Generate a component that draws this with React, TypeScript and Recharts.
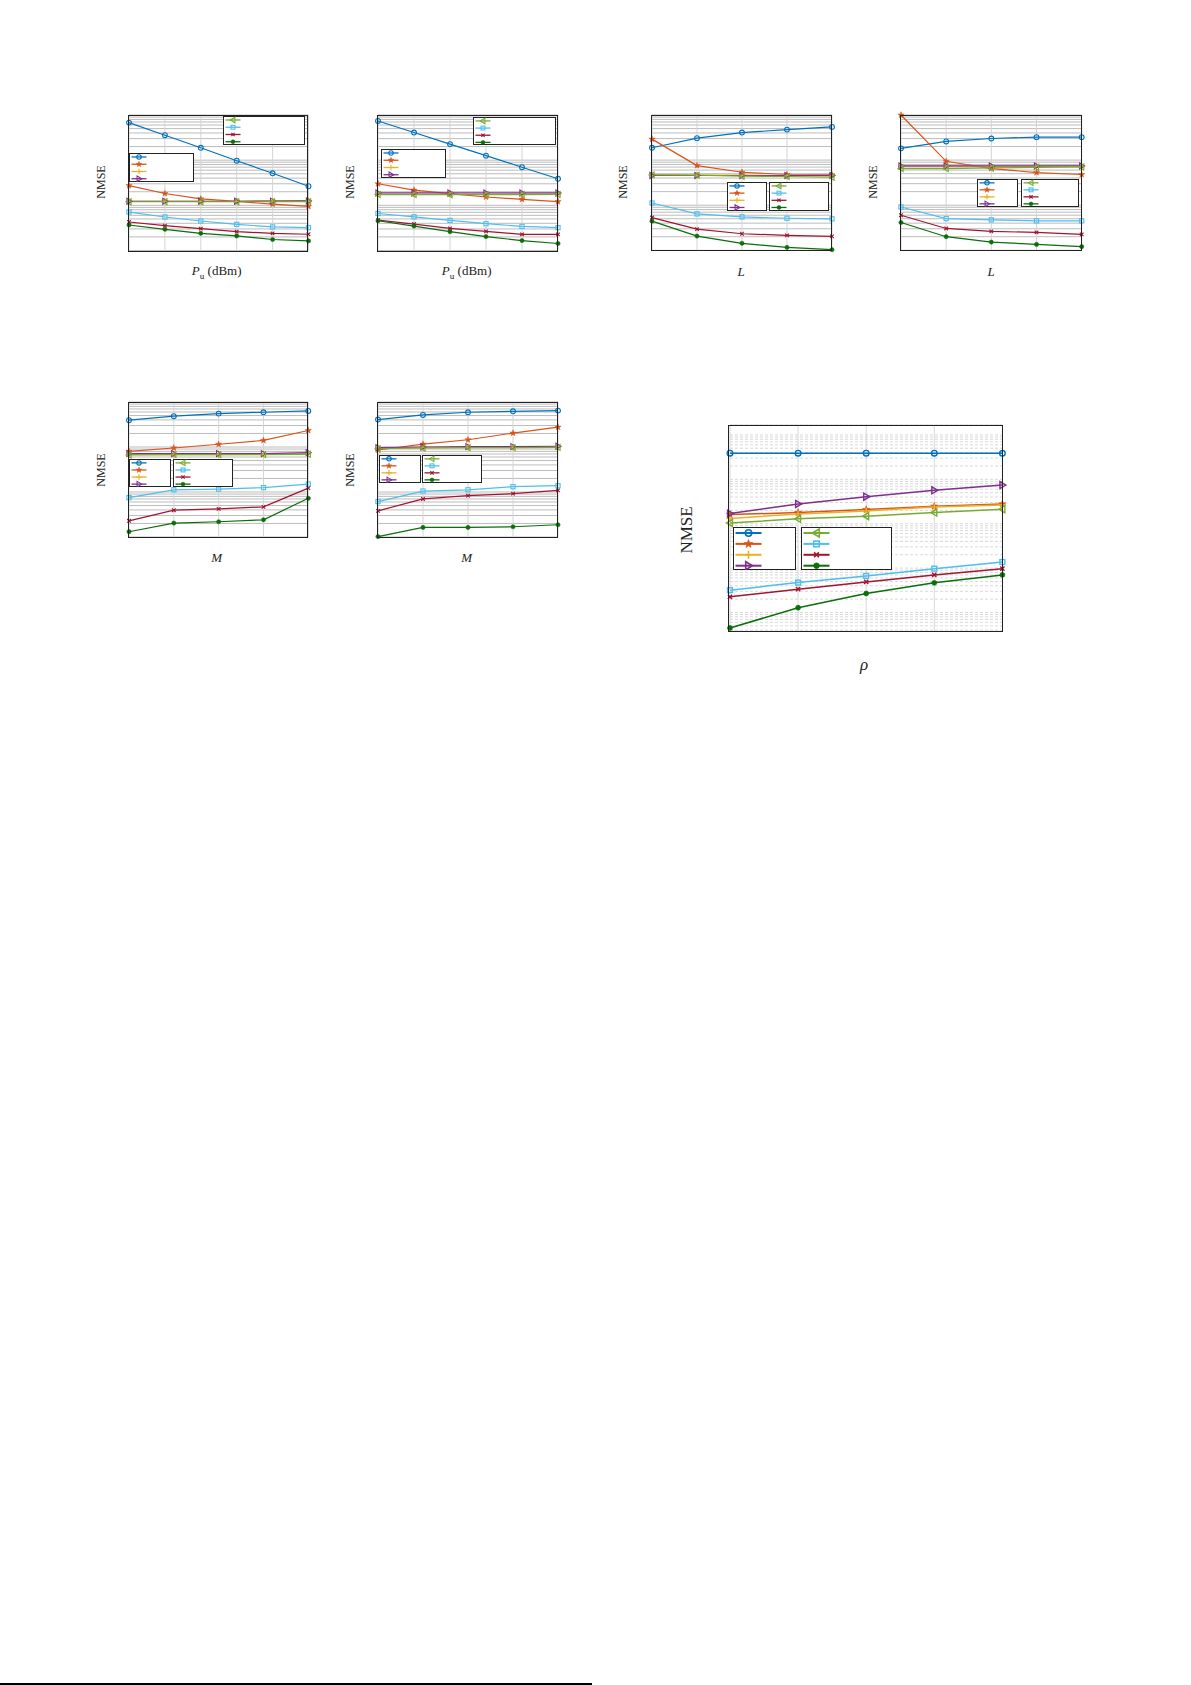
import React from 'react'
import { LineChart, Line, XAxis, YAxis, CartesianGrid } from 'recharts'

// series styling, same order in every panel
const COLORS = ['#0072BD', '#D95319', '#EDB120', '#7E2F8E', '#77AC30', '#4DBEEE', '#A2142F', '#0A6E0A']
const SHAPES = ['circle', 'star', 'plus', 'triRight', 'triLeft', 'square', 'cross', 'dot']

// x values (tick labels are not shown in the figure)
const puDbm = [0, 5, 10, 15, 20, 25]
const pathsL = [1, 2, 3, 4, 5]
const antennasM = [32, 64, 96, 128, 160]
const rhoValues = [0.1, 0.2, 0.3, 0.4, 0.5]

// NMSE, one row per series
const nmsePuA = [
  [0.678, 0.357, 0.188, 0.0973, 0.0512, 0.0265],
  [0.0274, 0.0183, 0.0139, 0.0122, 0.0106, 0.00945],
  [0.0122, 0.0122, 0.0122, 0.0122, 0.0126, 0.0128],
  [0.0123, 0.0123, 0.0123, 0.0123, 0.0124, 0.0125],
  [0.012, 0.012, 0.012, 0.012, 0.012, 0.0121],
  [0.0071, 0.00551, 0.0045, 0.0038, 0.00332, 0.00321],
  [0.00428, 0.00355, 0.00305, 0.00262, 0.0024, 0.00229],
  [0.00367, 0.00295, 0.0024, 0.0021, 0.00175, 0.00163],
]
const nmsePuB = [
  [0.738, 0.409, 0.227, 0.126, 0.0698, 0.0387],
  [0.0301, 0.0218, 0.0181, 0.0153, 0.0136, 0.0121],
  [0.0175, 0.0175, 0.0176, 0.0176, 0.0177, 0.0177],
  [0.0188, 0.0188, 0.0188, 0.0188, 0.0188, 0.0188],
  [0.0173, 0.0173, 0.0172, 0.0172, 0.0173, 0.0174],
  [0.0066, 0.00557, 0.00463, 0.00392, 0.00342, 0.0032],
  [0.00471, 0.00385, 0.00309, 0.00265, 0.00228, 0.00228],
  [0.00456, 0.00348, 0.00261, 0.00203, 0.00166, 0.00143],
]
const nmseLA = [
  [0.188, 0.307, 0.408, 0.475, 0.544],
  [0.292, 0.0755, 0.0538, 0.0479, 0.047],
  [0.0468, 0.0466, 0.0462, 0.0458, 0.0452],
  [0.0455, 0.0455, 0.0455, 0.0455, 0.0455],
  [0.047, 0.0462, 0.044, 0.0433, 0.0418],
  [0.0112, 0.00641, 0.00551, 0.00514, 0.00498],
  [0.00532, 0.00294, 0.00233, 0.00214, 0.00203],
  [0.00442, 0.00207, 0.00143, 0.00116, 0.00103],
]
const nmseLB = [
  [0.182, 0.259, 0.301, 0.323, 0.323],
  [1.0, 0.094, 0.0649, 0.053, 0.0479],
  [0.0734, 0.0734, 0.0734, 0.0738, 0.074],
  [0.0742, 0.0742, 0.0742, 0.0742, 0.0742],
  [0.0649, 0.0649, 0.067, 0.0693, 0.0705],
  [0.00914, 0.00506, 0.00473, 0.0045, 0.0045],
  [0.006, 0.00305, 0.00262, 0.00249, 0.00225],
  [0.00413, 0.002, 0.00152, 0.00135, 0.0012],
]
const nmseMA = [
  [0.394, 0.483, 0.553, 0.592, 0.633],
  [0.0802, 0.0951, 0.115, 0.14, 0.233],
  [0.0677, 0.0677, 0.0677, 0.0688, 0.07],
  [0.0713, 0.0713, 0.0713, 0.0713, 0.075],
  [0.0667, 0.0677, 0.0677, 0.0677, 0.0688],
  [0.0075, 0.0112, 0.0116, 0.0125, 0.015],
  [0.00229, 0.00394, 0.00422, 0.00467, 0.0122],
  [0.00131, 0.00204, 0.00218, 0.00241, 0.00724],
]
const nmseMB = [
  [0.407, 0.516, 0.592, 0.622, 0.644],
  [0.0859, 0.116, 0.145, 0.204, 0.276],
  [0.094, 0.0955, 0.097, 0.097, 0.0985],
  [0.0966, 0.1, 0.102, 0.102, 0.104],
  [0.0918, 0.095, 0.097, 0.097, 0.098],
  [0.00612, 0.0105, 0.0112, 0.0131, 0.0138],
  [0.00381, 0.00701, 0.0083, 0.00919, 0.0109],
  [0.00102, 0.00163, 0.00163, 0.00169, 0.00187],
]
const nmseRho = [
  [0.388, 0.388, 0.388, 0.388, 0.385],
  [0.0161, 0.0178, 0.0208, 0.0247, 0.0279],
  [0.0131, 0.0166, 0.0194, 0.0239, 0.0265],
  [0.0169, 0.0279, 0.0407, 0.0565, 0.0744],
  [0.0104, 0.0129, 0.0148, 0.0178, 0.0212],
  [3.18e-4, 4.72e-4, 6.67e-4, 9.73e-4, 1.37e-3],
  [2.25e-4, 3.35e-4, 4.89e-4, 7.02e-4, 9.73e-4],
  [4.47e-5, 1.28e-4, 2.68e-4, 4.65e-4, 7.02e-4],
]

const FONT = '"Liberation Serif", "DejaVu Serif", serif'

function logTicks(lo: number, hi: number, minor = true) {
  const out: number[] = []
  for (let e = Math.floor(Math.log10(lo)) - 1; e <= Math.ceil(Math.log10(hi)); e++) {
    for (let k = 1; k <= (minor ? 9 : 1); k++) {
      const v = Number((k * Math.pow(10, e)).toPrecision(6))
      if (v >= lo * 0.999 && v <= hi * 1.001) out.push(v)
    }
  }
  return out
}

function Marker({ shape, cx, cy, color, size, sw }: any) {
  if (cx == null || cy == null) return <g />
  const r = size / 2
  switch (shape) {
    case 'circle':
      return <circle cx={cx} cy={cy} r={r * 0.8} fill="none" stroke={color} strokeWidth={sw} />
    case 'star': {
      const pts: string[] = []
      for (let i = 0; i < 10; i++) {
        const a = -Math.PI / 2 + (i * Math.PI) / 5
        const rr = i % 2 === 0 ? r * 1.1 : r * 0.45
        pts.push(`${cx + rr * Math.cos(a)},${cy + rr * Math.sin(a)}`)
      }
      return <polygon points={pts.join(' ')} fill={color} stroke={color} strokeWidth={sw * 0.4} />
    }
    case 'plus':
      return (
        <g stroke={color} strokeWidth={sw}>
          <line x1={cx - r} y1={cy} x2={cx + r} y2={cy} />
          <line x1={cx} y1={cy - r} x2={cx} y2={cy + r} />
        </g>
      )
    case 'triRight':
      return <polygon points={`${cx + r},${cy} ${cx - r * 0.7},${cy - r} ${cx - r * 0.7},${cy + r}`} fill="none" stroke={color} strokeWidth={sw} />
    case 'triLeft':
      return <polygon points={`${cx - r},${cy} ${cx + r * 0.7},${cy - r} ${cx + r * 0.7},${cy + r}`} fill="none" stroke={color} strokeWidth={sw} />
    case 'square':
      return <rect x={cx - r * 0.7} y={cy - r * 0.7} width={r * 1.4} height={r * 1.4} fill="none" stroke={color} strokeWidth={sw} />
    case 'cross':
      return (
        <g stroke={color} strokeWidth={sw}>
          <line x1={cx - r * 0.6} y1={cy - r * 0.6} x2={cx + r * 0.6} y2={cy + r * 0.6} />
          <line x1={cx - r * 0.6} y1={cy + r * 0.6} x2={cx + r * 0.6} y2={cy - r * 0.6} />
        </g>
      )
    default:
      return <circle cx={cx} cy={cy} r={r * 0.7} fill={color} stroke={color} strokeWidth={sw * 0.5} />
  }
}

function LegendBox({ box, items, big }: any) {
  const [l, t, w, h] = box
  const gap = h / 4
  const len = big ? 26 : 15
  return (
    <div style={{ position: 'absolute', left: l, top: t, width: w, height: h, background: '#fff', border: '1px solid #222', boxSizing: 'border-box' }}>
      <svg width={w} height={h} style={{ position: 'absolute', left: -1, top: -1 }}>
        {items.map((j: number, i: number) => {
          const y = gap * (i + 0.55)
          return (
            <g key={j}>
              <line x1={2.5} y1={y} x2={2.5 + len} y2={y} stroke={COLORS[j]} strokeWidth={big ? 2 : 1.3} />
              <Marker shape={SHAPES[j]} cx={2.5 + len / 2} cy={y} color={COLORS[j]} size={big ? 8 : 5.5} sw={big ? 1.6 : 1.1} />
            </g>
          )
        })}
      </svg>
    </div>
  )
}

const noTick = () => <g />

function Panel({ p }: any) {
  const pad = 10
  const data = p.x.map((xv: number, i: number) => {
    const row: any = { x: xv }
    p.values.forEach((s: number[], j: number) => { row[`s${j}`] = s[i] })
    return row
  })
  const size = p.big ? 7 : 6
  const sw = p.big ? 1.4 : 1.1
  return (
    <>
      <div style={{ position: 'absolute', left: p.box[0] - pad, top: p.box[1] - pad }}>
        <LineChart width={p.box[2] + 2 * pad} height={p.box[3] + 2 * pad} data={data}
          margin={{ top: pad, right: pad, bottom: pad, left: pad }}>
          {p.big ? (
            <>
              <CartesianGrid stroke="#cfcfcf" strokeDasharray="3 2" strokeWidth={0.8} vertical={false} />
              <CartesianGrid yAxisId="major" stroke="#d8d8d8" strokeWidth={1} />
            </>
          ) : (
            <>
              <CartesianGrid stroke="#b4b4b4" strokeWidth={0.9} vertical={false} />
              <CartesianGrid stroke="#d4d4d4" strokeWidth={1} horizontal={false} />
            </>
          )}
          <XAxis dataKey="x" type="number" domain={[p.x[0], p.x[p.x.length - 1]]} ticks={p.x}
            tick={noTick} tickLine={false} axisLine={false} height={1} interval={0} />
          <YAxis type="number" scale="log" domain={p.domain} ticks={logTicks(p.domain[0], p.domain[1])}
            tick={noTick} tickLine={false} axisLine={false} width={1} interval={0} />
          {p.big && (
            <YAxis yAxisId="major" type="number" scale="log" domain={p.domain}
              ticks={logTicks(p.domain[0], p.domain[1], false)}
              tick={noTick} tickLine={false} axisLine={false} width={1} interval={0} />
          )}
          {p.values.map((_: number[], j: number) => (
            <Line key={j} dataKey={`s${j}`} stroke={COLORS[j]} strokeWidth={p.big ? 1.5 : 1.2}
              isAnimationActive={false}
              dot={(d: any) => <Marker key={`m${j}-${d.index}`} shape={SHAPES[j]} cx={d.cx} cy={d.cy} color={COLORS[j]} size={size} sw={sw} />} />
          ))}
        </LineChart>
      </div>
      <div style={{ position: 'absolute', left: p.box[0], top: p.box[1], width: p.box[2], height: p.box[3], border: '1px solid #222', boxSizing: 'border-box', pointerEvents: 'none' }} />
      <LegendBox box={p.legendB} items={[0, 1, 2, 3]} big={p.big} />
      <LegendBox box={p.legendA} items={[4, 5, 6, 7]} big={p.big} />
      <div style={{ position: 'absolute', left: p.yl[0], top: p.yl[1], transform: 'translate(-50%,-50%) rotate(-90deg)', fontFamily: FONT, fontSize: p.big ? 17 : 12, color: '#222', whiteSpace: 'nowrap' }}>
        NMSE
      </div>
      <div style={{ position: 'absolute', left: p.xl[0], top: p.xl[1], transform: 'translate(-50%,-50%)', fontFamily: FONT, fontSize: p.big ? 17 : 13, color: '#222', whiteSpace: 'nowrap' }}>
        {p.xLabel}
      </div>
    </>
  )
}

const puLabel = <span><i>P</i><sub style={{ fontSize: '0.7em' }}>u</sub> (dBm)</span>

const panels = [
  { box: [127.5, 115, 180.5, 136.5], x: puDbm, values: nmsePuA, domain: [1e-3, 1], legendB: [129.3, 153.3, 64.7, 29], legendA: [223.3, 116, 81.7, 29], yl: [100.7, 181.7], xl: [216.7, 271.7], xLabel: puLabel },
  { box: [377, 115, 181, 136.5], x: puDbm, values: nmsePuB, domain: [1e-3, 1], legendB: [381, 149.3, 64.7, 29], legendA: [473.3, 116.7, 82.7, 28.6], yl: [350, 181.7], xl: [466.7, 271.7], xLabel: puLabel },
  { box: [650.5, 115, 181, 136.3], x: pathsL, values: nmseLA, domain: [1e-3, 1], legendB: [726.7, 182.3, 40.6, 28.7], legendA: [769.3, 182.3, 60, 28.7], yl: [623.3, 181.7], xl: [741, 271.7], xLabel: <i>L</i> },
  { box: [900, 115, 181.7, 136.3], x: pathsL, values: nmseLB, domain: [1e-3, 1], legendB: [976.7, 179.3, 41, 28], legendA: [1020.7, 179.3, 58.6, 28], yl: [873.3, 181.7], xl: [991, 271.7], xLabel: <i>L</i> },
  { box: [127.5, 402.3, 180.3, 136], x: antennasM, values: nmseMA, domain: [1e-3, 1], legendB: [129.3, 459, 42, 28.3], legendA: [173.3, 459, 59.4, 28.3], yl: [100.7, 470], xl: [216.7, 558.3], xLabel: <i>M</i> },
  { box: [376.7, 402.3, 181, 136], x: antennasM, values: nmseMB, domain: [1e-3, 1], legendB: [379.3, 455.3, 41.4, 28], legendA: [422.3, 455.3, 60, 28], yl: [350, 470], xl: [466.7, 558.3], xLabel: <i>M</i> },
  { box: [728.3, 425, 274.4, 207.3], x: rhoValues, values: nmseRho, domain: [3.77e-5, 1.675], legendB: [733.3, 526.7, 62.7, 43.6], legendA: [800.7, 526.7, 91, 43.6], yl: [686.7, 530], xl: [864, 665], xLabel: <i>ρ</i>, big: true },
]

export default function App() {
  return (
    <div style={{ position: 'absolute', left: 0, top: 0, width: 1191, height: 1685, background: '#fff', overflow: 'hidden' }}>
      {panels.map((p, i) => <Panel key={i} p={p} />)}
      <div style={{ position: 'absolute', left: 0, top: 1683, width: 592, height: 1.5, background: '#000' }} />
    </div>
  )
}
